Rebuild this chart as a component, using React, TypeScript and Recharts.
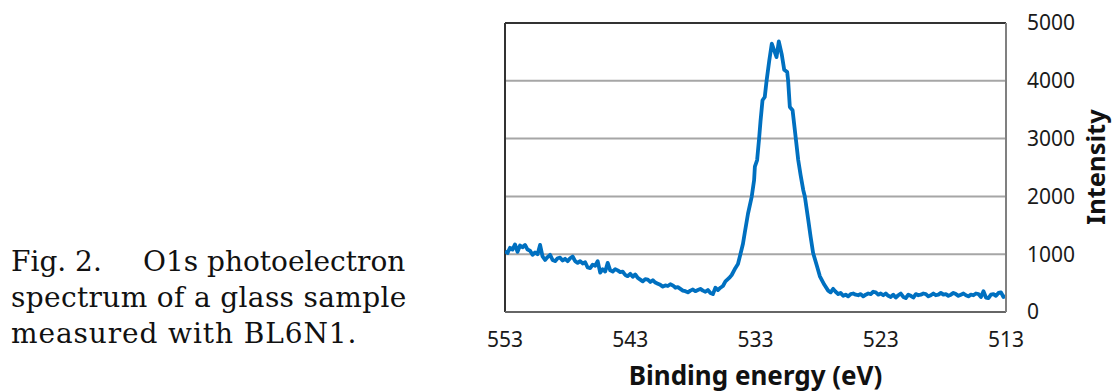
import React from 'react';
import { LineChart, Line, XAxis, YAxis, CartesianGrid, ReferenceLine } from 'recharts';

// Binding energy (eV) values
const energies: number[] = [
  553.0, 552.8, 552.6, 552.4, 552.2, 552.0, 551.8, 551.6, 551.4, 551.2,
  551.0, 550.8, 550.6, 550.4, 550.2, 550.0, 549.8, 549.6, 549.4, 549.2,
  549.0, 548.8, 548.6, 548.4, 548.2, 548.0, 547.8, 547.6, 547.4, 547.2,
  547.0, 546.8, 546.6, 546.4, 546.2, 546.0, 545.8, 545.6, 545.4, 545.2,
  545.0, 544.8, 544.6, 544.4, 544.2, 544.0, 543.8, 543.6, 543.4, 543.2,
  543.0, 542.8, 542.6, 542.4, 542.2, 542.0, 541.8, 541.6, 541.4, 541.2,
  541.0, 540.8, 540.6, 540.4, 540.2, 540.0, 539.8, 539.6, 539.4, 539.2,
  539.0, 538.8, 538.6, 538.4, 538.2, 538.0, 537.8, 537.6, 537.4, 537.2,
  537.0, 536.8, 536.6, 536.4, 536.2, 536.0,
  535.8, 535.6, 535.4, 535.1, 534.9, 534.6, 534.4, 534.2, 534.0, 533.86,
  533.6, 533.3, 533.11, 533.05, 532.87, 532.71, 532.6, 532.44, 532.26, 532.12,
  531.9, 531.7, 531.32, 531.14, 530.9, 530.71, 530.47, 530.39, 530.26, 530.04,
  529.78, 529.59, 529.4, 529.19, 529.06, 528.79, 528.6, 528.4, 528.1, 527.86,
  527.5, 527.2,
  527.0, 526.8, 526.6, 526.4, 526.2, 526.0, 525.8, 525.6, 525.4, 525.2,
  525.0, 524.8, 524.6, 524.4, 524.2, 524.0, 523.8, 523.6, 523.4, 523.2,
  523.0, 522.8, 522.6, 522.4, 522.2, 522.0, 521.8, 521.6, 521.4, 521.2,
  521.0, 520.8, 520.6, 520.4, 520.2, 520.0, 519.8, 519.6, 519.4, 519.2,
  519.0, 518.8, 518.6, 518.4, 518.2, 518.0, 517.8, 517.6, 517.4, 517.2,
  517.0, 516.8, 516.6, 516.4, 516.2, 516.0, 515.8, 515.6, 515.4, 515.2,
  515.0, 514.8, 514.6, 514.4, 514.2, 514.0, 513.8, 513.6, 513.4, 513.2,
  513.0,
];

// Intensity values
const intensities: number[] = [
  1050, 1020, 1110, 1080, 1170, 1040, 1150, 1120, 1160, 1080,
  1060, 990, 1030, 1000, 1160, 960, 900, 950, 990, 900,
  880, 930, 940, 890, 920, 880, 930, 960, 880, 850,
  880, 840, 860, 770, 760, 820, 800, 880, 680, 740,
  700, 850, 720, 700, 740, 720, 690, 700, 640, 620,
  660, 610, 650, 590, 560, 530, 570, 560, 520, 550,
  510, 490, 470, 440, 460, 450, 480, 460, 420, 430,
  400, 370, 360, 340, 370, 390, 360, 380, 400, 370,
  350, 380, 330, 310, 420, 380,
  420, 450, 530, 590, 640, 762, 830, 1003, 1180, 1366,
  1700, 1997, 2284, 2514, 2629, 3009, 3300, 3664, 3720, 3991,
  4350, 4641, 4410, 4681, 4450, 4193, 4152, 3991, 3548, 3491,
  2997, 2629, 2370, 2112, 1997, 1595, 1300, 1021, 800, 617,
  470, 370,
  340, 400, 350, 310, 330, 280, 300, 270, 310, 320,
  300, 290, 310, 270, 300, 320, 310, 350, 340, 300,
  320, 290, 320, 280, 260, 300, 250, 290, 320, 260,
  240, 300, 280, 250, 310, 290, 300, 320, 310, 270,
  290, 320, 290, 300, 330, 300, 310, 280, 300, 330,
  310, 280, 300, 320, 290, 270, 300, 290, 320, 310,
  260, 360, 250, 240, 300, 310, 280, 330, 340, 260,
  270,
];

const xTicks: number[] = [553, 543, 533, 523, 513];
const yTicks: number[] = [0, 1000, 2000, 3000, 4000, 5000];

const captionLines: string[] = ['Fig. 2.', 'O1s photoelectron', 'spectrum of a glass sample', 'measured with BL6N1.'];

const data = energies.map((e, i) => ({ e, v: intensities[i] }));

const FONT = '"Noto Sans", Roboto, sans-serif';

const XTitle = (props: any) => {
  const vb = props.viewBox || { x: 0, y: 0, width: 0, height: 0 };
  return (
    <text x={vb.x + vb.width / 2} y={385} textAnchor="middle" fontFamily={FONT} fontWeight={700} fontSize={26} fill="#111">
      Binding energy (eV)
    </text>
  );
};

const YTitle = () => {
  return (
    <text x={0} y={0} transform="translate(1105,167) rotate(-90)" textAnchor="middle" fontFamily={FONT} fontWeight={700} fontSize={25.5} fill="#111">
      Intensity
    </text>
  );
};

export default function App() {
  return (
    <div style={{ position: 'absolute', left: 0, top: 0, width: 1114, height: 392, background: '#fff' }}>
      <div style={{ position: 'absolute', left: 0, top: 0, width: 480, height: 392, fontFamily: '"DejaVu Serif", serif', fontSize: 28, color: '#111', lineHeight: '36px' }}>
        <div style={{ position: 'absolute', left: 11, top: 244, whiteSpace: 'nowrap' }}>{captionLines[0]}</div>
        <div style={{ position: 'absolute', left: 143, top: 244, whiteSpace: 'nowrap' }}>{captionLines[1]}</div>
        <div style={{ position: 'absolute', left: 11, top: 280, whiteSpace: 'nowrap', letterSpacing: 0.35 }}>{captionLines[2]}</div>
        <div style={{ position: 'absolute', left: 11, top: 316, whiteSpace: 'nowrap', letterSpacing: 0.9 }}>{captionLines[3]}</div>
      </div>
      <div style={{ position: 'absolute', left: 0, top: 0 }}>
        <LineChart width={1114} height={392} data={data} margin={{ top: 23, right: 48, bottom: 50, left: 505 }}>
          <CartesianGrid horizontal vertical={false} stroke="#A6A6A6" strokeWidth={2} />
          <XAxis
            type="number"
            dataKey="e"
            domain={[513, 553]}
            reversed
            ticks={xTicks}
            interval={0}
            allowDataOverflow
            height={30}
            tickLine={false}
            tickSize={0}
            tickMargin={20}
            axisLine={{ stroke: '#666', strokeWidth: 2 }}
            tick={{ fontSize: 21, fill: '#1a1a1a', fontFamily: FONT }}
            label={<XTitle />}
          />
          <YAxis
            orientation="right"
            type="number"
            domain={[0, 5000]}
            ticks={yTicks}
            interval={0}
            width={60}
            tickLine={false}
            tickSize={0}
            tickMargin={21}
            axisLine={{ stroke: '#808080', strokeWidth: 2 }}
            tick={{ fontSize: 21, fill: '#1a1a1a', fontFamily: FONT, textAnchor: 'start' }}
            label={<YTitle />}
          />
          <ReferenceLine y={5000} stroke="#333" strokeWidth={2} />
          <ReferenceLine x={553} stroke="#333" strokeWidth={2} />
          <Line
            type="linear"
            dataKey="v"
            stroke="#0070C0"
            strokeWidth={3.8}
            strokeLinejoin="round"
            dot={false}
            isAnimationActive={false}
          />
        </LineChart>
      </div>
    </div>
  );
}
